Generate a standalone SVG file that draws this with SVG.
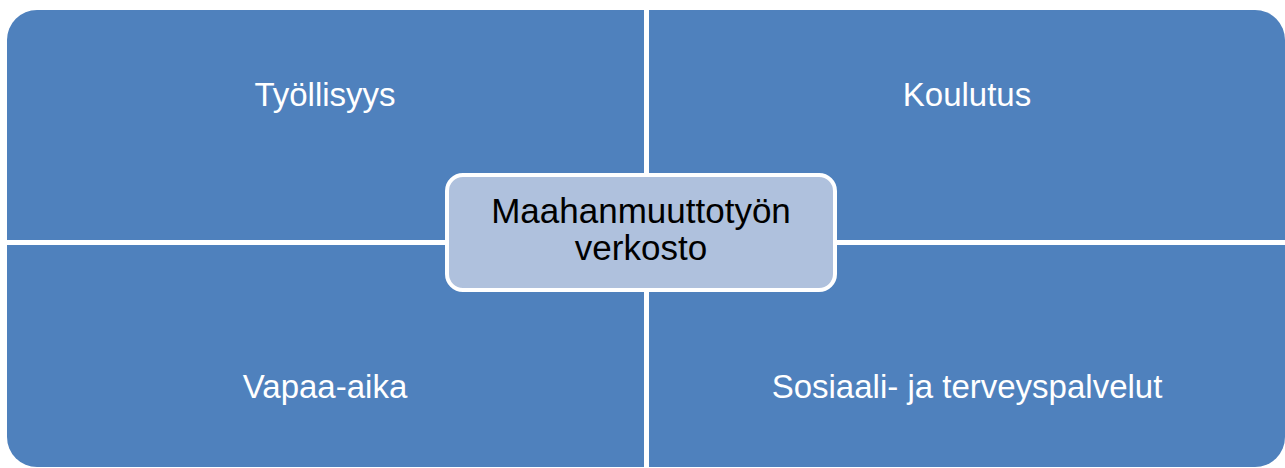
<svg xmlns="http://www.w3.org/2000/svg" width="1285" height="468" viewBox="0 0 1285 468">
<style>
.q{fill:#4f81bd}
.ql{font-family:"Liberation Sans",Arial,sans-serif;font-size:33px;fill:#ffffff;text-anchor:middle}
.c{fill:#afc1dd;stroke:#ffffff;stroke-width:4}
.cl{font-family:"Liberation Sans",Arial,sans-serif;font-size:35px;fill:#000000;text-anchor:middle}
</style>
<rect width="1285" height="468" fill="#ffffff"/>
<g id="connectors"></g>
<g id="tyollisyys">
<path class="q" d="M7,40 A30,30 0 0 1 37,10 H644 V240 H7 Z"/>
<text class="ql" x="325" y="106">Työllisyys</text>
</g>
<g id="koulutus">
<path class="q" d="M649,10 H1255 A30,30 0 0 1 1285,40 V240 H649 Z"/>
<text class="ql" x="967" y="106">Koulutus</text>
</g>
<g id="vapaa-aika">
<path class="q" d="M7,245 H644 V467 H37 A30,30 0 0 1 7,437 Z"/>
<text class="ql" x="325" y="398">Vapaa-aika</text>
</g>
<g id="sosiaali">
<path class="q" d="M649,245 H1285 V437 A30,30 0 0 1 1255,467 H649 Z"/>
<text class="ql" x="967" y="398">Sosiaali- ja terveyspalvelut</text>
</g>
<g id="center">
<rect class="c" x="447" y="175" width="388" height="115" rx="16" ry="16"/>
<text class="cl" x="641" y="223">Maahanmuuttotyön</text>
<text class="cl" x="641" y="260">verkosto</text>
</g>
</svg>
